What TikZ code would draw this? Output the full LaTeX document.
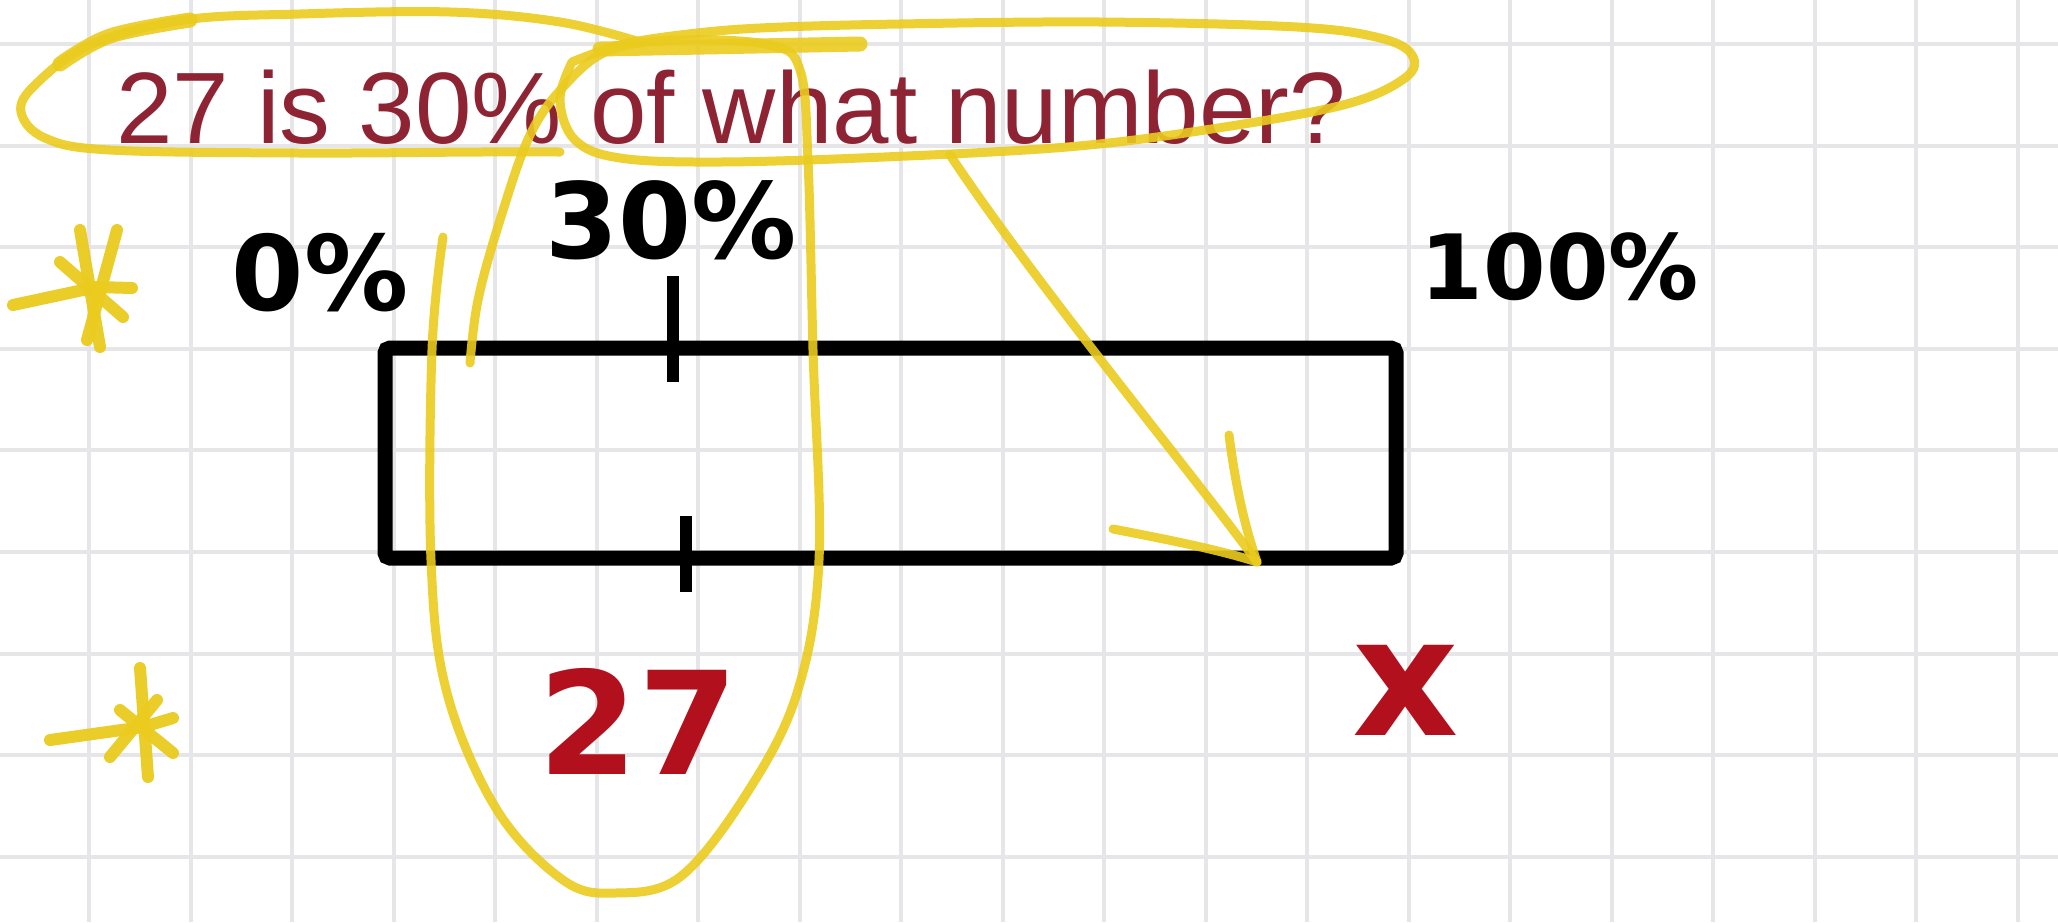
\documentclass[tikz,border=0pt]{standalone}
\usepackage{fontspec}
\newfontfamily\qfont{Liberation Sans}
\newfontfamily\hfont{DejaVu Sans}
\definecolor{gridgray}{HTML}{E6E6E8}
\definecolor{qred}{HTML}{8E2433}
\definecolor{penred}{HTML}{B3101E}
\definecolor{hilite}{HTML}{EACB1E}
\tikzset{
  gridline/.style={draw=gridgray, line width=4},
  qtext/.style={inner sep=0, text=qred, font=\qfont\fontsize{101.5}{110}\selectfont},
  blackhand/.style={inner sep=0, text=black},
  redhand/.style={inner sep=0, text=penred},
  barbox/.style={draw=black, line width=15, rounded corners=5},
  tickmark/.style={draw=black, line width=12},
  hl/.style={draw=hilite, line width=9, line cap=round, line join=round, opacity=0.9},
  hlthick/.style={draw=hilite, line width=15, line cap=round, opacity=0.9},
  starstroke/.style={draw=hilite, line width=12, line cap=round, opacity=0.95}
}
\begin{document}
\begin{tikzpicture}[x=1pt,y=-1pt]
\useasboundingbox (0,0) rectangle (2058,922);
\fill[white] (0,0) rectangle (2058,922);
% grid
\foreach \k in {1,...,20} { \draw[gridline] ({-12.5+101.5*\k},0) -- ({-12.5+101.5*\k},922); }
\foreach \k in {0,...,8} { \draw[gridline] (0,{44+101.6*\k}) -- (2058,{44+101.6*\k}); }
% question
\node[qtext, anchor=base west] (question) at (116,143) {27 is 30\% of what number?};
% handwritten labels
\node[blackhand, anchor=base, font=\hfont\bfseries\fontsize{104}{110}\selectfont] (pzero) at (320,310) {0\%};
\node[blackhand, anchor=base, font=\hfont\bfseries\fontsize{105}{110}\selectfont] (pthirty) at (671,258) {30\%};
\node[blackhand, anchor=base, font=\hfont\bfseries\fontsize{90}{100}\selectfont] (phundred) at (1560,299) {100\%};
\node[redhand, anchor=base, font=\hfont\bfseries\fontsize{143}{150}\selectfont] (twentyseven) at (638,774) {27};
\node[redhand, anchor=base, font=\hfont\bfseries\fontsize{165}{170}\selectfont] (xval) at (1406,735) {x};
% bar
\draw[barbox] (385,348) rectangle (1396,558);
\coordinate (ttop1) at (673,276); \coordinate (ttop2) at (673,382);
\coordinate (tbot1) at (686,516); \coordinate (tbot2) at (686,592);
\draw[tickmark] (ttop1) -- (ttop2);
\draw[tickmark] (tbot1) -- (tbot2);
% highlighter: loop around the question (left part)
\draw[hl] plot[smooth, tension=0.6] coordinates {(640,42) (560,22) (450,12) (300,14) (184,20) (90,45) (35,85) (21,112) (45,138) (110,150) (300,153) (480,152) (560,152)};
\draw[hlthick] plot[smooth, tension=0.6] coordinates {(60,64) (110,36) (190,20)};
% right part
\draw[hl] plot[smooth, tension=0.6] coordinates {(572,62) (560,100) (575,140) (620,158) (720,162) (884,157) (1067,147) (1205,130) (1343,105) (1405,78) (1412,55) (1380,38) (1297,27) (1100,22) (900,24) (760,28) (680,35) (620,45) (572,62)};
\draw[hlthick] (600,49) -- (860,44);
% vertical loop round 30% and 27
\draw[hl] plot[smooth, tension=0.6] coordinates {(443,237) (432,350) (431,560) (447,693) (497,810) (563,880) (615,893) (680,877) (747,793) (797,693) (819,560) (813,350) (808,160) (800,70) (770,45) (680,40) (610,50) (565,85) (530,135) (500,220) (478,300) (470,363)};
% arrow
\coordinate (arrstart) at (950,155);
\coordinate (arrtip) at (1257,562);
\coordinate (barbA) at (1229,435);
\coordinate (barbB) at (1113,529);
\draw[hl] (arrstart) .. controls (1040,290) and (1190,470) .. (arrtip);
\draw[hl] (barbA) .. controls (1236,490) and (1246,530) .. (arrtip);
\draw[hl] (barbB) .. controls (1170,540) and (1220,550) .. (arrtip);
% stars
\draw[starstroke] (13,305) -- (97,287) -- (132,288);
\draw[starstroke] (80,230) -- (100,347);
\draw[starstroke] (117,230) -- (87,340);
\draw[starstroke] (60,262) -- (123,317);
\draw[starstroke] (50,740) -- (143,727) -- (173,718);
\draw[starstroke] (140,668) -- (148,777);
\draw[starstroke] (120,710) -- (173,753);
\draw[starstroke] (157,700) -- (110,757);
\end{tikzpicture}
\end{document}
